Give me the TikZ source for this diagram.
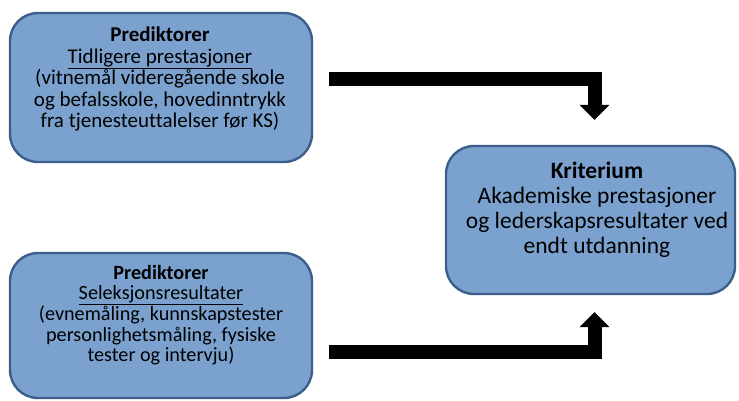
\documentclass[tikz,border=0pt]{standalone}
\usepackage{fontspec}
\setmainfont{Carlito}[Ligatures=NoCommon]
\usetikzlibrary{arrows.meta}
\definecolor{boxfill}{RGB}{123,162,207}
\definecolor{boxline}{RGB}{60,94,138}
\tikzset{
  box/.style={draw=boxline, fill=boxfill, line width=2.4pt, rounded corners=28pt, inner sep=0pt},
  txt/.style={align=center, inner sep=0pt, font=\fontsize{21}{21.5}\selectfont},
  txtbig/.style={align=center, inner sep=0pt, font=\fontsize{23.5}{25}\selectfont},
  blockarrow/.style={line width=14pt, line join=miter, -{Triangle[width=29pt,length=15pt]}}
}
\begin{document}
\begin{tikzpicture}[x=1pt,y=-1pt]
\useasboundingbox (0,0) rectangle (739,401);
\node[box, minimum width=302pt, minimum height=149pt] (b1) at (161,87.5) {};
\node[box, minimum width=302pt, minimum height=145pt] (b2) at (161,325.5) {};
\node[box, minimum width=289pt, minimum height=148pt] (b3) at (590.5,220) {};
\node[txt] (t1) at (160,79) {\textbf{Prediktorer}\\\underline{Tidligere prestasjoner}\\(vitnemål videregående skole\\og befalsskole, hovedinntrykk\\fra tjenesteuttalelser før KS)};
\node[txt, font=\fontsize{20.2}{20.2}\selectfont] (t2) at (161,315) {\textbf{Prediktorer}\\\underline{Seleksjonsresultater}\\(evnemåling, kunnskapstester\\personlighetsmåling, fysiske\\tester og intervju)};
\node[txtbig] (t3) at (597,210) {\textbf{Kriterium}\\Akademiske prestasjoner\\og lederskapsresultater ved\\endt utdanning};
\coordinate (a1s) at (329,79);
\coordinate (a1e) at (594.5,120);
\coordinate (a2s) at (329,352);
\coordinate (a2e) at (594.5,312);
\draw[blockarrow] (a1s) -| (a1e);
\draw[blockarrow] (a2s) -| (a2e);
\end{tikzpicture}
\end{document}
